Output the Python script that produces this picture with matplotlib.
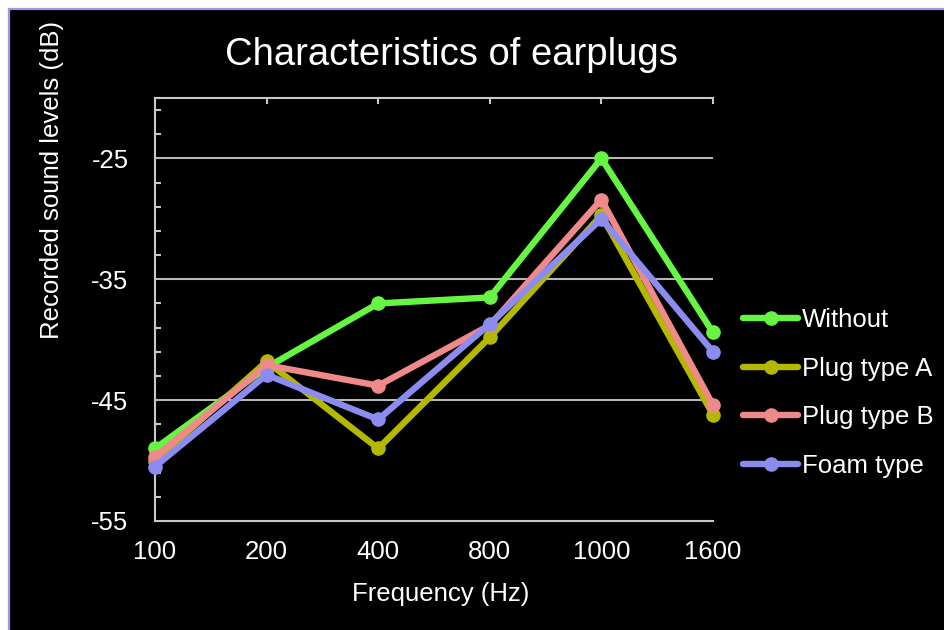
import matplotlib
matplotlib.use("Agg")
import matplotlib.pyplot as plt
from matplotlib.patches import Rectangle

plt.rcParams['font.family'] = ['Liberation Sans', 'DejaVu Sans']
plt.rcParams['axes.unicode_minus'] = False

# data
freqs = ['100', '200', '400', '800', '1000', '1600']
without = [-49.0, -42.3, -37.0, -36.5, -25.0, -39.4]
plug_a = [-50.0, -41.8, -49.0, -39.8, -29.7, -46.2]
plug_b = [-49.7, -42.1, -43.8, -38.8, -28.4, -45.4]
foam = [-50.5, -42.9, -46.6, -38.7, -30.0, -41.0]

series = [
    ("Without", without, '#66f542'),
    ("Plug type A", plug_a, '#b4b800'),
    ("Plug type B", plug_b, '#f08a8a'),
    ("Foam type", foam, '#8c8cf0'),
]

fig = plt.figure(figsize=(9.44, 6.30), dpi=100)
fig.patch.set_facecolor('white')
# black panel with a thin lavender edge
fig.patches.append(Rectangle((9 / 944, -0.01), 1.0, (630 - 9) / 630 + 0.01,
                             transform=fig.transFigure, facecolor='black',
                             edgecolor='#9a9ae6', linewidth=1.6, zorder=-5))

ax = fig.add_axes([155 / 944, 1 - 521 / 630, (713 - 155) / 944, (521 - 98) / 630])
ax.set_facecolor('black')

x = range(len(freqs))
for name, vals, col in series:
    ax.plot(x, vals, color=col, lw=4.6, marker='o', markersize=9.5,
            label=name, solid_capstyle='round', clip_on=False, zorder=3)

ax.set_xlim(0, len(freqs) - 1)
ax.set_ylim(-55, -20)
ax.set_xticks(list(x))
ax.set_xticklabels(freqs)
ax.set_yticks([-55, -45, -35, -25])
ax.set_yticks([-53 + 2 * i for i in range(17)], minor=True)

for yv in [-45, -35, -25]:
    ax.axhline(yv, color='#b8b8b8', lw=1.5, zorder=1)

spine_col = '#c8c8c8'
for side in ['left', 'bottom', 'top']:
    ax.spines[side].set_color(spine_col)
    ax.spines[side].set_linewidth(1.5)
ax.spines['right'].set_visible(False)

ax.tick_params(axis='y', which='major', length=0, pad=19, labelsize=18.5,
               labelcolor='white')
ax.tick_params(axis='y', which='minor', direction='in', length=4,
               width=1.5, color=spine_col)
ax.tick_params(axis='x', which='major', bottom=False, top=True,
               direction='in', length=4, width=1.5, color=spine_col,
               pad=14, labelsize=18.5, labelcolor='white')

fig.text(441 / 944, 1 - 594 / 630, "Frequency (Hz)", color='white',
         fontsize=18.5, ha='center', va='center')
fig.text(52 / 944, 1 - 180 / 630, "Recorded sound levels (dB)", color='white',
         fontsize=18.5, ha='center', va='center', rotation=90)
fig.text(451 / 944, 1 - 55 / 630, "Characteristics of earplugs", color='white',
         fontsize=27.5, ha='center', va='center')

leg = fig.legend(loc='center left', bbox_to_anchor=(743 / 944, 1 - 393 / 630),
                 frameon=False, fontsize=18.5, labelcolor='white', numpoints=1,
                 handlelength=2.15, handletextpad=0.15, labelspacing=0.96,
                 borderpad=0, borderaxespad=0)

fig.savefig('out.png', dpi=100, facecolor=fig.get_facecolor())
